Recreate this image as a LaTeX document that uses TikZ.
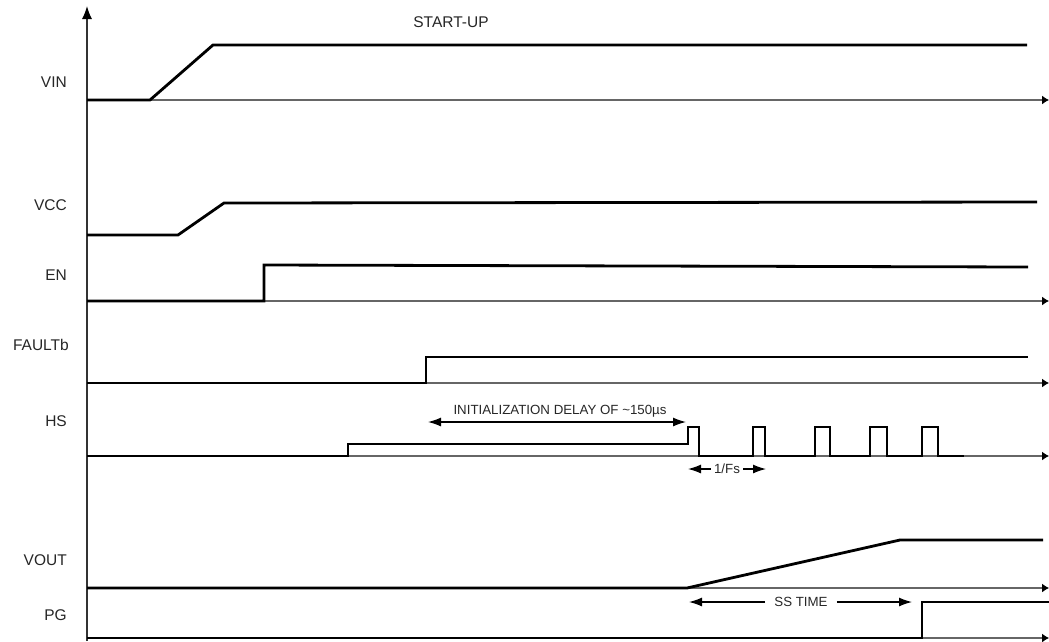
\documentclass[tikz,border=0pt]{standalone}
\usepackage{fontspec}
\setmainfont{Liberation Sans}
\usetikzlibrary{arrows.meta}
\begin{document}
\begin{tikzpicture}[x=1pt,y=-1pt,
  sig/.style={line width=2.8pt,black,line join=miter},
  base/.style={line width=1.1pt,black!60,-{Latex[length=7pt,width=9pt,black]}},
  axisline/.style={line width=1.3pt,black!80,-{Latex[length=13pt,width=10pt,black]}},
  lbl/.style={anchor=east,inner sep=0pt,text=black!85,font=\fontsize{15.5}{18}\selectfont},
  ann/.style={inner sep=0pt,text=black!85,font=\fontsize{13.3}{15}\selectfont},
  dim/.style={line width=1.2pt,black,{Latex[length=13pt,width=9pt]}-{Latex[length=13pt,width=9pt]}},
  dimr/.style={line width=1.2pt,black,-{Latex[length=13pt,width=9pt]}}]
\useasboundingbox (0,0) rectangle (1049,641);

% axis
\coordinate (axb) at (87,641);
\coordinate (axt) at (87,6);
\draw[axisline] (axb) -- (axt);

% title
\node[ann,font=\fontsize{15.5}{18}\selectfont] (title) at (451,22) {START-UP};

% labels
\node[lbl] (lvin)  at (67,82)  {VIN};
\node[lbl] (lvcc)  at (67,205) {VCC};
\node[lbl] (len)   at (67,275) {EN};
\node[lbl] (lflt)  at (69,345) {FAULTb};
\node[lbl] (lhs)   at (67,421) {HS};
\node[lbl] (lvout) at (67,560) {VOUT};
\node[lbl] (lpg)   at (67,615) {PG};

% baselines
\foreach \y in {100,301,383,456,588,638}{
  \draw[base] (87,\y) -- (1049,\y);
}

% VIN
\draw[sig] (87,100) -- (150,100) -- (213,45) -- (1027,45);
% VCC
\draw[sig] (87,235) -- (178,235) -- (224,203) -- (1037,202);
% EN
\draw[sig] (87,301) -- (264,301) -- (264,265) -- (1028,267);
% FAULTb
\draw[sig] (87,383) -- (426,383) -- (426,357) -- (1028,357);
% HS
\draw[sig] (87,456) -- (348,456) -- (348,444) -- (688,444) -- (688,427) -- (699,427) -- (699,456)
  -- (753,456) -- (753,427) -- (765,427) -- (765,456)
  -- (815,456) -- (815,427) -- (830,427) -- (830,456)
  -- (870,456) -- (870,427) -- (887,427) -- (887,456)
  -- (922,456) -- (922,427) -- (938,427) -- (938,456) -- (964,456);
% VOUT
\draw[sig] (87,588) -- (687,588) -- (900,540) -- (1043,540);
% PG
\draw[sig] (87,638) -- (922,638) -- (922,602) -- (1049,602);

% initialization delay
\node[ann] (tinit) at (560,411) {INITIALIZATION DELAY OF {\char"007E}150\char"00B5s};
\coordinate (ia) at (428,422);
\coordinate (ib) at (686,422);
\draw[dim] (ia) -- (ib);

% 1/Fs
\node[ann] (tfs) at (727,469) {1/Fs};
\coordinate (fa) at (688,469);
\coordinate (fb) at (766,469);
\draw[dimr] ([xshift=-3pt]tfs.west) -- (fa);
\draw[dimr] ([xshift=3pt]tfs.east) -- (fb);

% SS TIME
\node[ann] (tss) at (801,602) {SS TIME};
\coordinate (sa) at (689,602);
\coordinate (sb) at (912,602);
\draw[dimr] ([xshift=-9pt]tss.west) -- (sa);
\draw[dimr] ([xshift=9pt]tss.east) -- (sb);
\end{tikzpicture}
\end{document}
